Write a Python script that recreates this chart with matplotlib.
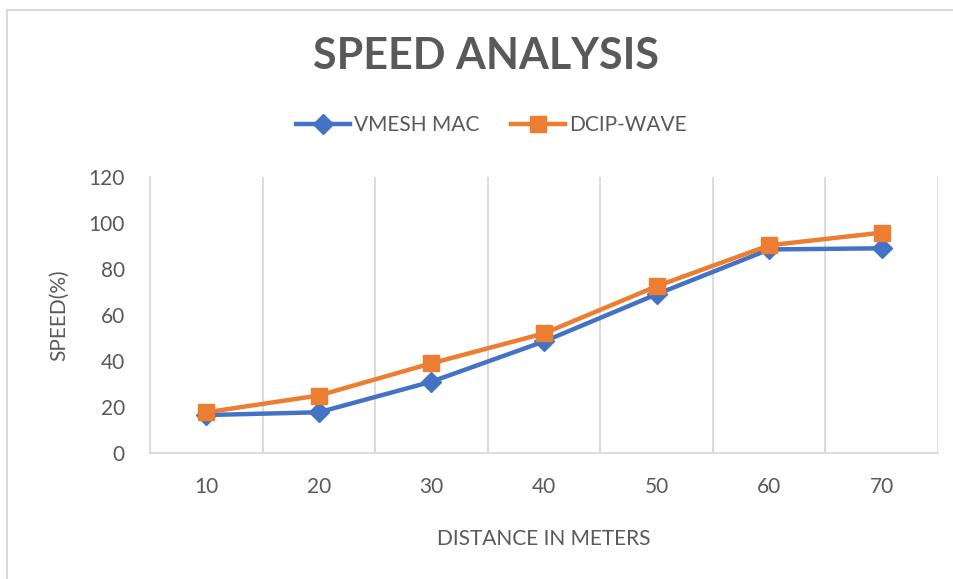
import matplotlib
matplotlib.use("Agg")
import matplotlib.pyplot as plt
from matplotlib.lines import Line2D

distances = ["10", "20", "30", "40", "50", "60", "70"]
vmesh_mac = [16.5, 17.7, 31, 48.5, 69, 88.5, 89]
dcip_wave = [17.7, 25, 39, 52, 72.5, 90.3, 95.8]
y_ticks = [0, 20, 40, 60, 80, 100, 120]

plt.rcParams['font.family'] = ['Lato', 'DejaVu Sans']
gray = '#595959'
grid = '#D9D9D9'

fig = plt.figure(figsize=(9.54, 5.79), dpi=100)
W, H = 954, 579
ax = fig.add_axes([150 / W, 1 - 453 / H, (938 - 150) / W, (453 - 177) / H])

x = list(range(1, len(distances) + 1))
ax.plot(x, vmesh_mac, color='#4472C4', lw=3.2, marker='D', markersize=10,
        label='VMESH MAC', zorder=3)
ax.plot(x, dcip_wave, color='#ED7D31', lw=3.2, marker='s', markersize=12,
        label='DCIP-WAVE', zorder=4)

ax.set_xlim(0.5, len(distances) + 0.5)
ax.set_ylim(0, 120)
ax.set_yticks(y_ticks)
ax.set_yticklabels([str(v) for v in y_ticks])
ax.set_xticks(x)
ax.set_xticklabels(distances)
for b in [i + 0.5 for i in range(1, len(distances))] + [len(distances) + 0.5]:
    ax.axvline(b, color=grid, lw=1.3, zorder=1)

for s in ['top', 'right']:
    ax.spines[s].set_visible(False)
for s in ['left', 'bottom']:
    ax.spines[s].set_color(grid)
    ax.spines[s].set_linewidth(1.3)
ax.tick_params(axis='both', length=0, colors=gray, labelsize=15)
ax.tick_params(axis='x', pad=17)
ax.tick_params(axis='y', pad=18)

ax.set_xlabel('DISTANCE IN METERS', color=gray, fontsize=15, labelpad=23)
ax.set_ylabel('SPEED(%)', color=gray, fontsize=15, labelpad=14)

fig.text(486 / W, 1 - 56 / H, 'SPEED ANALYSIS', ha='center', va='center',
         fontsize=31, fontweight='bold', color=gray)

fig.legend(loc='center', bbox_to_anchor=(491 / W, 1 - 125 / H), ncol=2,
           frameon=False, fontsize=15, labelcolor=gray, handlelength=2.6,
           columnspacing=1.5, handletextpad=0.2)

# chart-area border (top and left visible)
fig.add_artist(Line2D([7 / W, 1], [1 - 10 / H, 1 - 10 / H], color=grid, lw=1.5))
fig.add_artist(Line2D([7 / W, 7 / W], [0, 1 - 10 / H], color=grid, lw=1.5))

fig.savefig('out.png', dpi=100, facecolor='white')
